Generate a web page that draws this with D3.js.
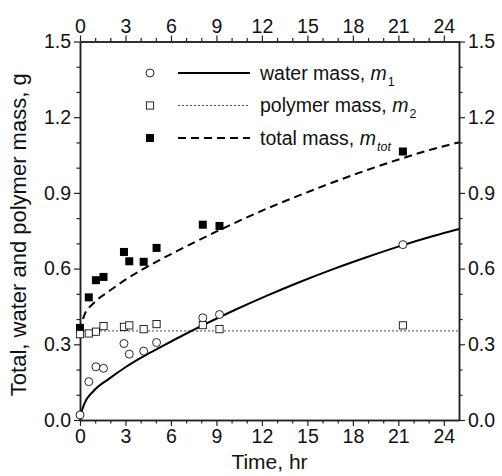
<!DOCTYPE html>
<html><head><meta charset="utf-8">
<script src="https://cdn.jsdelivr.net/npm/d3@7"></script>
<style>
html,body{margin:0;padding:0;background:#fff;}
text{font-family:"Liberation Sans",Arial,Helvetica,sans-serif;fill:#111;}
</style></head>
<body><svg id="c" width="502" height="476"></svg>
<script>
// ---- data ----
const times      = [0, 0.58, 1.05, 1.55, 2.9, 3.25, 4.2, 5.05, 8.1, 9.2, 21.3];
const waterMass  = [0.02, 0.152, 0.211, 0.205, 0.303, 0.261, 0.273, 0.307, 0.405, 0.418, 0.695];
const polyMass   = [0.34, 0.343, 0.350, 0.372, 0.369, 0.375, 0.360, 0.380, 0.376, 0.360, 0.375];
const totalMass  = [0.365, 0.486, 0.554, 0.567, 0.666, 0.629, 0.627, 0.682, 0.774, 0.769, 1.064];

const fitWaterT  = [0, 0.1, 0.3, 0.85, 1.95, 3.05, 4.15, 5.25, 6.35, 7.65, 10.1, 12.3, 14.5, 16.7, 18.9, 21.1, 23.3, 25];
const fitWater   = [0, 0.03, 0.066, 0.112, 0.165, 0.211, 0.251, 0.287, 0.322, 0.362, 0.433, 0.492, 0.547, 0.598, 0.645, 0.689, 0.729, 0.757];
const fitPolyT   = [0, 25];
const fitPoly    = [0.353, 0.353];
const fitTotalT  = [0, 0.28, 0.85, 1.95, 3.05, 4.15, 5.25, 6.35, 7.65, 10.1, 12.3, 14.5, 16.7, 18.9, 21.1, 23.3, 25];
const fitTotal   = [0.35, 0.415, 0.46, 0.512, 0.558, 0.598, 0.634, 0.668, 0.707, 0.778, 0.837, 0.891, 0.942, 0.99, 1.034, 1.074, 1.1];

const xMajor = [0, 3, 6, 9, 12, 15, 18, 21, 24];
const yMajor = [0.0, 0.3, 0.6, 0.9, 1.2, 1.5];
const xTitle = "Time, hr";
const yTitle = "Total, water and polymer mass, g";
const legendLabels = ["water mass, ", "polymer mass, ", "total mass, "];
const legendSubs = ["1", "2", "tot"];

// ---- layout ----
const svg = d3.select("#c");
const L = 80, R = 459, T = 41.5, B = 420;
const x = d3.scaleLinear().domain([0, 25]).range([L, R]);
const y = d3.scaleLinear().domain([0, 1.5]).range([B, T]);

const xMinor = d3.range(0, 26, 1).filter(v => v % 3 !== 0 && v < 25);
const yMinor = d3.range(0, 1.51, 0.1).map(v => +v.toFixed(2)).filter(v => Math.abs(v / 0.3 - Math.round(v / 0.3)) > 1e-6);

function styleAxis(g, fs) {
  g.selectAll(".domain").attr("stroke", "#222").attr("stroke-width", 1.5);
  g.selectAll(".tick line").attr("stroke", "#222").attr("stroke-width", 1.2);
  g.selectAll(".tick text").style("font-family", '"Liberation Sans",Arial,sans-serif').style("font-size", fs + "px").attr("fill", "#111");
  g.attr("font-family", null).attr("font-size", null);
}
const fmtY = d3.format(".1f");
// minor axes
svg.append("g").attr("transform", `translate(0,${B})`).call(d3.axisBottom(x).tickValues(xMinor).tickSize(3.5).tickFormat("").tickSizeOuter(0)).call(g => styleAxis(g, 19));
svg.append("g").attr("transform", `translate(0,${T})`).call(d3.axisTop(x).tickValues(xMinor).tickSize(3.5).tickFormat("").tickSizeOuter(0)).call(g => styleAxis(g, 19));
svg.append("g").attr("transform", `translate(${L},0)`).call(d3.axisLeft(y).tickValues(yMinor).tickSize(3.5).tickFormat("").tickSizeOuter(0)).call(g => styleAxis(g, 19));
svg.append("g").attr("transform", `translate(${R},0)`).call(d3.axisRight(y).tickValues(yMinor).tickSize(3.5).tickFormat("").tickSizeOuter(0)).call(g => styleAxis(g, 19));
// major axes
svg.append("g").attr("transform", `translate(0,${B})`).call(d3.axisBottom(x).tickValues(xMajor).tickSize(6).tickPadding(3).tickSizeOuter(0)).call(g => styleAxis(g, 19.5));
svg.append("g").attr("transform", `translate(0,${T})`).call(d3.axisTop(x).tickValues(xMajor).tickSize(6).tickPadding(3).tickSizeOuter(0)).call(g => styleAxis(g, 19.5));
svg.append("g").attr("transform", `translate(${L},0)`).call(d3.axisLeft(y).tickValues(yMajor).tickFormat(fmtY).tickSize(6).tickPadding(3).tickSizeOuter(0)).call(g => styleAxis(g, 19.5));
svg.append("g").attr("transform", `translate(${R},0)`).call(d3.axisRight(y).tickValues(yMajor).tickFormat(fmtY).tickSize(6).tickPadding(3).tickSizeOuter(0)).call(g => styleAxis(g, 19.5));

// titles
svg.append("text").attr("x", (L + R) / 2).attr("y", 469).attr("text-anchor", "middle").style("font-size", "21px").text(xTitle);
svg.append("text").attr("transform", `translate(26,${(T + B) / 2 + 4}) rotate(-90)`).attr("text-anchor", "middle").style("font-size", "22px").text(yTitle);

// curves
const line = d3.line().x(d => x(d[0])).y(d => y(d[1])).curve(d3.curveMonotoneX);
svg.append("path").datum(fitPolyT.map((t, i) => [t, fitPoly[i]])).attr("d", line)
  .attr("fill", "none").attr("stroke", "#333").attr("stroke-width", 0.9).attr("stroke-dasharray", "2,2");
svg.append("path").datum(fitWaterT.map((t, i) => [t, fitWater[i]])).attr("d", line)
  .attr("fill", "none").attr("stroke", "#000").attr("stroke-width", 2);
svg.append("path").datum(fitTotalT.map((t, i) => [t, fitTotal[i]])).attr("d", line)
  .attr("fill", "none").attr("stroke", "#000").attr("stroke-width", 2).attr("stroke-dasharray", "8,5");

// markers
const S = 8;
svg.append("g").selectAll("rect").data(times.map((t, i) => [t, totalMass[i]])).join("rect")
  .attr("x", d => x(d[0]) - S / 2).attr("y", d => y(d[1]) - S / 2).attr("width", S).attr("height", S).attr("fill", "#000");
svg.append("g").selectAll("rect").data(times.map((t, i) => [t, polyMass[i]])).join("rect")
  .attr("x", d => x(d[0]) - 3.6).attr("y", d => y(d[1]) - 3.6).attr("width", 7.2).attr("height", 7.2)
  .attr("fill", "#fff").attr("stroke", "#111").attr("stroke-width", 0.9);
svg.append("g").selectAll("circle").data(times.map((t, i) => [t, waterMass[i]])).join("circle")
  .attr("cx", d => x(d[0])).attr("cy", d => y(d[1])).attr("r", 4)
  .attr("fill", "#fff").attr("stroke", "#111").attr("stroke-width", 0.9);

// legend
const lg = svg.append("g");
const rows = [73, 105.5, 138];
const mx = 150, lx1 = 178, lx2 = 250, tx = 260;
lg.append("circle").attr("cx", mx).attr("cy", rows[0]).attr("r", 4).attr("fill", "#fff").attr("stroke", "#111").attr("stroke-width", 0.9);
lg.append("rect").attr("x", mx - 3.6).attr("y", rows[1] - 3.6).attr("width", 7.2).attr("height", 7.2).attr("fill", "#fff").attr("stroke", "#111").attr("stroke-width", 0.9);
lg.append("rect").attr("x", mx - S / 2).attr("y", rows[2] - S / 2).attr("width", S).attr("height", S).attr("fill", "#000");
lg.append("line").attr("x1", lx1).attr("x2", lx2).attr("y1", rows[0]).attr("y2", rows[0]).attr("stroke", "#000").attr("stroke-width", 2);
lg.append("line").attr("x1", lx1).attr("x2", lx2).attr("y1", rows[1]).attr("y2", rows[1]).attr("stroke", "#333").attr("stroke-width", 0.9).attr("stroke-dasharray", "2,2");
lg.append("line").attr("x1", lx1).attr("x2", lx2).attr("y1", rows[2]).attr("y2", rows[2]).attr("stroke", "#000").attr("stroke-width", 2).attr("stroke-dasharray", "8,5");
legendLabels.forEach((lab, i) => {
  const t = lg.append("text").attr("x", tx).attr("y", rows[i] + 6.5).style("font-size", "19.5px");
  t.append("tspan").text(lab);
  t.append("tspan").style("font-style", "italic").text("m");
  t.append("tspan").attr("dy", 6).attr("dx", 1).style("font-size", "12.5px").style("font-style", i === 2 ? "italic" : "normal").text(legendSubs[i]);
});
</script></body></html>
